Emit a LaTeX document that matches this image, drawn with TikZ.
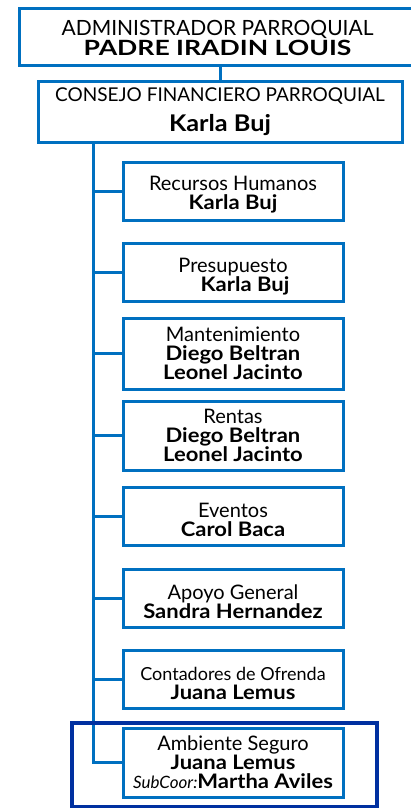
\documentclass[tikz,border=0pt]{standalone}
\usepackage{fontspec}
\setmainfont{Lato}[BoldFeatures={FakeStretch=1.1}]
\definecolor{orgblue}{RGB}{0,112,192}
\definecolor{markblue}{RGB}{0,48,160}
\newcommand{\topstrut}{\rule{0pt}{22pt}}
\begin{document}
\begin{tikzpicture}[x=1pt,y=-1pt]
        \useasboundingbox (0,0) rectangle (411,808);
        \begin{scope}[every node/.style={draw=orgblue,line width=3pt,align=center,inner sep=0pt}]
          \node[minimum width=397pt,minimum height=57pt,font=\fontsize{21}{20}\selectfont] (admin) at (217.5,37.5) {ADMINISTRADOR PARROQUIAL\\\scalebox{1.15}[1]{\textbf{PADRE IRADIN LOUIS}}};
          \node[minimum width=364pt,minimum height=61pt,font=\fontsize{19}{19}\selectfont] (consejo) at (220,111.5) {CONSEJO FINANCIERO PARROQUIAL\\[9pt]{\fontsize{23}{19}\selectfont\textbf{Karla Buj}}};
        \end{scope}
        \begin{scope}[every node/.style={draw=orgblue,line width=3pt,align=center,inner sep=0pt,minimum width=220pt,minimum height=58pt,font=\fontsize{20}{19}\selectfont}]
          \node (rh) at (233,191) {\topstrut Recursos Humanos\\\textbf{Karla Buj}};
          \node (pres) at (233,272.5) {\topstrut Presupuesto\\\hspace*{1.2em}\textbf{Karla Buj}};
          \node[minimum height=71pt] (mant) at (233,353.5) {Mantenimiento\\\textbf{Diego Beltran}\\\textbf{Leonel Jacinto}};
          \node[minimum height=69pt] (rent) at (233,435.5) {Rentas\\\textbf{Diego Beltran}\\\textbf{Leonel Jacinto}};
          \node (even) at (233,516) {\topstrut Eventos\\\textbf{Carol Baca}};
          \node (apoyo) at (233,598) {\topstrut Apoyo General\\\textbf{Sandra Hernandez}};
          \node (cont) at (233,679) {\topstrut{\fontsize{18}{19}\selectfont Contadores de Ofrenda}\\\textbf{Juana Lemus}};
          \node[minimum height=69pt] (amb) at (233,762.5) {Ambiente Seguro\\\textbf{Juana Lemus}\\{\fontsize{17}{19}\selectfont\itshape SubCoor:}\textbf{Martha Aviles}};
        \end{scope}
        \coordinate (trunk) at (93,142);
        \begin{scope}[every edge/.style={draw=orgblue,line width=3pt}]
          \path (consejo.north) edge (consejo.north |- admin.south);
          \path (trunk) edge[to path={|- (\tikztotarget)}] (amb.west);
          \path (trunk |- rh.west) edge (rh.west);
          \path (trunk |- pres.west) edge (pres.west);
          \path (trunk |- mant.west) edge (mant.west);
          \path (trunk |- rent.west) edge (rent.west);
          \path (trunk |- even.west) edge (even.west);
          \path (trunk |- apoyo.west) edge (apoyo.west);
          \path (trunk |- cont.west) edge (cont.west);
        \end{scope}
        \draw[markblue,line width=4pt] (72,723) rectangle (377,807);
\end{tikzpicture}
\end{document}
